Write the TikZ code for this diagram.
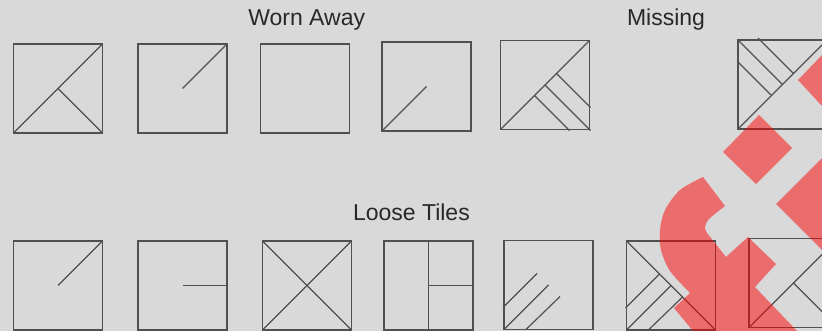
\documentclass[tikz,border=0pt]{standalone}
\usepackage{fontspec}
\setmainfont{Liberation Sans}
\usetikzlibrary{calc}
\definecolor{bg}{RGB}{217,217,217}
\definecolor{ln}{RGB}{80,80,80}
\definecolor{wmred}{RGB}{253,0,0}
\definecolor{txt}{RGB}{40,40,40}
\begin{document}
\begin{tikzpicture}[x=1pt,y=-1pt,
  tile/.style={draw=ln, line width=1.8pt, minimum size=89pt, inner sep=0pt, outer sep=0pt},
  inner/.style={draw=ln, line width=1.2pt},
  lbl/.style={font=\fontsize{23}{26}\selectfont, text=txt, anchor=base, inner sep=0pt},
  wm/.style={fill=wmred, fill opacity=0.5}]
\fill[bg] (0,0) rectangle (822,331);
\useasboundingbox (0,0) rectangle (822,331);

% labels
\node[lbl] (worn) at (306.7,26) {Worn Away};
\node[lbl] (miss) at (666,26) {Missing};
\node[lbl] (loose) at (411.4,221) {Loose Tiles};

% row 1
\node[tile] (t1) at (58,88.5) {};
\node[tile] (t2) at (182.5,88.5) {};
\node[tile] (t3) at (305,88.5) {};
\node[tile] (t4) at (426.5,86.5) {};
\node[tile] (t5) at (545,85) {};
\node[tile] (t6) at (782.5,84.5) {};

\draw[inner] (t1.south west) -- (t1.north east);
\draw[inner] (t1.center) -- (t1.south east);
\draw[inner] (t2.center) -- (t2.north east);
\draw[inner] (t4.south west) -- (t4.center);
\draw[inner] (t5.south west) -- (t5.north east);
\draw[inner] ([shift={(56,33)}]t5.north west) -- ([shift={(90,67)}]t5.north west);
\draw[inner] (t5.center) -- ([shift={(1,1)}]t5.south east);
\draw[inner] ([shift={(34,55)}]t5.north west) -- ([shift={(69,90)}]t5.north west);
\draw[inner] (t6.south west) -- (t6.north east);
\draw[inner] (t6.north west) -- (t6.center);
\draw[inner] ([shift={(0,22)}]t6.north west) -- ([shift={(33,55)}]t6.north west);
\draw[inner] ([shift={(20,-2)}]t6.north west) -- ([shift={(55.5,33.5)}]t6.north west);

% row 2
\node[tile] (b1) at (58,285.5) {};
\node[tile] (b2) at (182.5,285.5) {};
\node[tile] (b3) at (307,285.5) {};
\node[tile] (b4) at (428.5,285.5) {};
\node[tile] (b5) at (548.5,285) {};
\node[tile] (b6) at (671,285.5) {};
\node[tile] (b7) at (793.5,283) {};

\draw[inner] (b1.center) -- (b1.north east);
\draw[inner] (b2.center) -- (b2.east);
\draw[inner] (b3.south west) -- (b3.north east);
\draw[inner] (b3.north west) -- (b3.south east);
\draw[inner] (b4.north) -- (b4.south);
\draw[inner] (b4.center) -- (b4.east);
\draw[inner] ([shift={(-1,67)}]b5.north west) -- ([shift={(33,33)}]b5.north west);
\draw[inner] (b5.south west) -- (b5.center);
\draw[inner] ([shift={(22,89)}]b5.north west) -- ([shift={(56,56)}]b5.north west);
\draw[inner] (b6.north west) -- (b6.south east);
\draw[inner] ([shift={(-1,67)}]b6.north west) -- ([shift={(33,33)}]b6.north west);
\draw[inner] (b6.south west) -- (b6.center);
\draw[inner] ([shift={(22,89)}]b6.north west) -- ([shift={(56,56)}]b6.north west);
\draw[inner] (b7.south west) -- (b7.north east);
\draw[inner] (b7.center) -- (b7.south east);

% watermark
\fill[wm] (759,115) -- (792,148) -- (756,184) -- (723,152) -- cycle;
\fill[wm] (798,80) -- (822,55) -- (822,106) -- cycle;
\fill[wm] (776,204) -- (822,158) -- (822,250) -- cycle;
\fill[wm] (703,177) -- (725,206)
  -- plot[smooth] coordinates {(725,206) (709,219) (705,227) (707,233)}
  -- (726,257) -- (748,237) -- (776,264) -- (755,287) -- (797,331)
  -- (693,331) -- (674,308) -- (690,293)
  -- plot[smooth] coordinates {(690,293) (670,271) (661,250) (660,230) (665,210) (680,190) (703,177)}
  -- cycle;
\end{tikzpicture}
\end{document}
